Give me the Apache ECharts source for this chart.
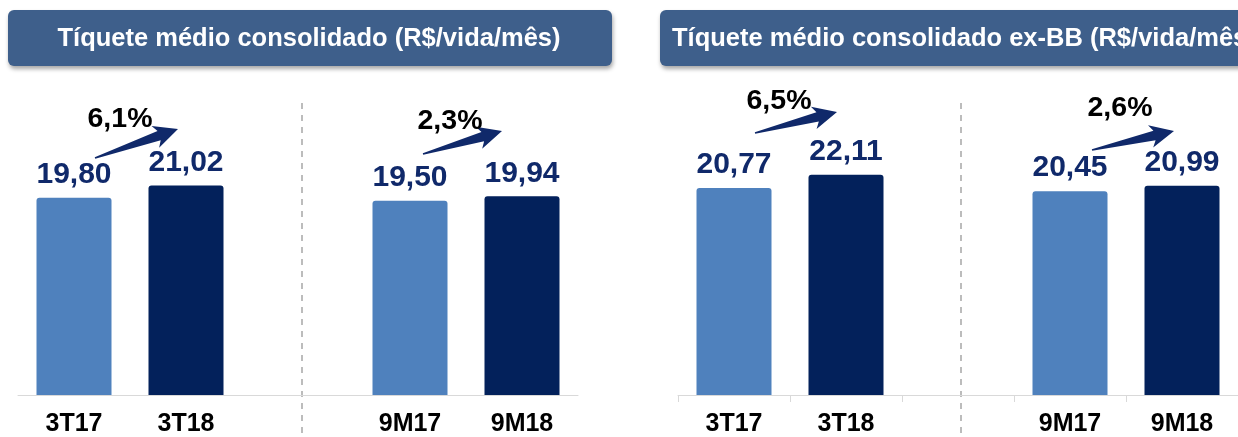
<!DOCTYPE html>
<html>
<head>
<meta charset="utf-8">
<script src="https://cdn.jsdelivr.net/npm/echarts@6/dist/echarts.min.js"></script>
<style>
  html, body { margin: 0; padding: 0; background: #fff; }
  #chart { width: 1238px; height: 437px; }
</style>
</head>
<body>
<div id="chart"></div>
<script>
var categories = ['3T17', '3T18', '', '9M17', '9M18'];
var ticketConsolidado = [19.80, 21.02, null, 19.50, 19.94];
var ticketExBB = [20.77, 22.11, null, 20.45, 20.99];
var growthConsolidado = ['6,1%', '2,3%'];
var growthExBB = ['6,5%', '2,6%'];
var titles = ['Tíquete médio consolidado (R$/vida/mês)', 'Tíquete médio consolidado ex-BB (R$/vida/mês)'];

var FONT = '"Liberation Sans", Arial, sans-serif';
var lightBlue = '#4f81bd';
var darkBlue = '#03215b';
var labelBlue = '#10296a';

// 17 = ano anterior (claro), 18 = ano atual (escuro)
function barData(values) {
	return values.map(function (v, i) {
		if (v == null) return null;
		return {
			value: v,
			itemStyle: { color: categories[i].slice(-2) === '17' ? lightBlue : darkBlue }
		};
	});
}

function xAxisCfg(idx, ticks) {
	return {
		type: 'category',
		gridIndex: idx,
		data: categories,
		axisLine: { lineStyle: { color: '#d9d9d9', width: 1 } },
		axisTick: { show: ticks, length: 7, lineStyle: { color: '#d9d9d9' } },
		axisLabel: {
			color: '#000', fontSize: 25, fontWeight: 'bold', fontFamily: FONT, margin: 17
		}
	};
}

function yAxisCfg(idx) {
	return { type: 'value', gridIndex: idx, min: 0, max: 30, show: false, splitLine: { show: false } };
}

function barSeries(idx, values) {
	return {
		type: 'bar',
		xAxisIndex: idx,
		yAxisIndex: idx,
		barWidth: 75,
		data: barData(values),
		itemStyle: { borderRadius: [3, 3, 0, 0] },
		label: {
			show: true,
			position: 'top',
			distance: 8,
			color: labelBlue,
			fontSize: 30,
			fontWeight: 'bold',
			fontFamily: FONT,
			formatter: function (p) { return p.value.toFixed(2).replace('.', ','); }
		}
	};
}

// seta de crescimento (afinada na cauda)
function arrow(x1, y1, x2, y2) {
	var dx = x2 - x1, dy = y2 - y1;
	var len = Math.sqrt(dx * dx + dy * dy);
	var ux = dx / len, uy = dy / len;
	var nx = -uy, ny = ux;
	var headLen = 20;
	var bx = x2 - ux * headLen, by = y2 - uy * headLen;
	var pts = [
		[x1 + nx * 0.8, y1 + ny * 0.8],
		[bx + nx * 4.8, by + ny * 4.8],
		[bx - ux * 4 + nx * 11.5, by - uy * 4 + ny * 11.5],
		[x2, y2],
		[bx - ux * 4 - nx * 11.5, by - uy * 4 - ny * 11.5],
		[bx - nx * 4.8, by - ny * 4.8],
		[x1 - nx * 0.8, y1 - ny * 0.8]
	];
	return { type: 'polygon', shape: { points: pts }, style: { fill: labelBlue } };
}

function growthText(x, y, txt) {
	return {
		type: 'text', x: x, y: y,
		style: {
			text: txt, fill: '#000', font: 'bold 28.5px ' + FONT,
			align: 'center', verticalAlign: 'middle'
		}
	};
}

function header(x, w, txt, textX, align) {
	return {
		type: 'group',
		children: [
			{
				type: 'rect',
				shape: { x: x, y: 10, width: w, height: 56, r: 6 },
				style: {
					fill: '#3e5f8b',
					shadowBlur: 4, shadowOffsetX: 1, shadowOffsetY: 3,
					shadowColor: 'rgba(0,0,0,0.35)'
				}
			},
			{
				type: 'text', x: textX, y: 39,
				style: {
					text: txt, fill: '#fff', font: 'bold 25.5px ' + FONT,
					align: align, verticalAlign: 'middle'
				}
			}
		]
	};
}

function separator(x) {
	return {
		type: 'line',
		shape: { x1: x, y1: 103, x2: x, y2: 437 },
		style: { stroke: '#a6a6a6', lineWidth: 1.5, lineDash: [6, 6] }
	};
}

var chart = echarts.init(document.getElementById('chart'));

var option = {
	animation: false,
	grid: [
		{ left: 18, top: 96, width: 560, height: 308 },
		{ left: 678, top: 96, width: 562, height: 308 }
	],
	xAxis: [xAxisCfg(0, false), xAxisCfg(1, true)],
	yAxis: [yAxisCfg(0), yAxisCfg(1)],
	series: [barSeries(0, ticketConsolidado), barSeries(1, ticketExBB)],
	graphic: [
		header(8, 604, titles[0], 309, 'center'),
		header(660, 600, titles[1], 672, 'left'),
		separator(302),
		separator(961),
		arrow(95, 158, 178, 129),
		arrow(423, 154, 502, 131),
		arrow(755, 133, 837, 112),
		arrow(1092, 150, 1174, 131),
		growthText(120, 119, growthConsolidado[0]),
		growthText(450, 121, growthConsolidado[1]),
		growthText(779, 101, growthExBB[0]),
		growthText(1120, 108, growthExBB[1])
	]
};

chart.setOption(option);
</script>
</body>
</html>
